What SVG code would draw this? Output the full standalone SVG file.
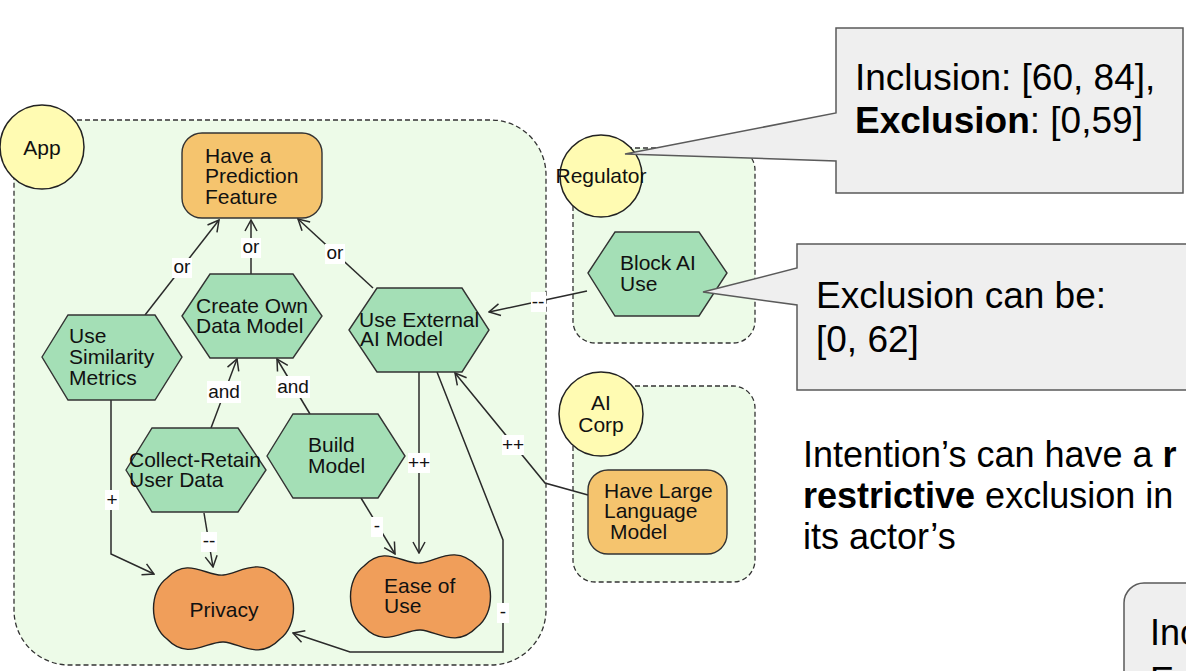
<svg xmlns="http://www.w3.org/2000/svg" xmlns:xlink="http://www.w3.org/1999/xlink" width="1186" height="671" viewBox="0 0 1186 671">
  <style>
    text { font-family: "Liberation Sans", Arial, sans-serif; fill: #111; }
    .node { font-size: 21px; }
    .lbl { font-size: 19px; text-anchor: middle; }
    .big { font-size: 36px; fill: #000; }
    .callout text { font-size: 37px; }
    .boundary { fill: #edfbe8; stroke: #333; stroke-width: 1.3; stroke-dasharray: 5 3; }
    .actor { fill: #fffbb2; stroke: #222; stroke-width: 1.5; }
    .task { fill: #a4dfb6; stroke: #333; stroke-width: 1.4; }
    .goal { fill: #f5c46e; stroke: #333; stroke-width: 1.4; }
    .soft { fill: #f09e5a; stroke: #222; stroke-width: 1.4; }
    .link { fill: none; stroke: #2a2a2a; stroke-width: 1.5; marker-end: url(#open); }
    .lblbg { fill: #fff; }
    .box { fill: #efefef; stroke: #5a5a5a; stroke-width: 1.5; }
  </style>
  <defs>
    <marker id="open" viewBox="-12 -7 13 14" refX="0" refY="0" markerWidth="13" markerHeight="14" markerUnits="userSpaceOnUse" orient="auto">
      <path d="M-11,-6 L0,0 L-11,6" fill="none" stroke="#2a2a2a" stroke-width="1.5"/>
    </marker>
    <!-- softgoal cloud outline, 141 x 87 -->
    <path id="cloud" d="M14,13 C35,-9 54,12 70.5,10 C87,8 106,-9 127,13 C145,26 145,61 127,74 C106,96 87,78 70.5,77 C54,76 35,96 14,74 C-4,61 -4,26 14,13 Z"/>
  </defs>

  <!-- actor boundaries -->
  <g id="app-boundary"><rect class="boundary" x="14" y="120" width="532" height="545" rx="55" ry="55"/></g>
  <g id="regulator-boundary"><rect class="boundary" x="573" y="148" width="182" height="195" rx="22" ry="22"/></g>
  <g id="aicorp-boundary"><rect class="boundary" x="573" y="386" width="182" height="196" rx="22" ry="22"/></g>

  <!-- actors -->
  <g id="actor-app"><circle class="actor" cx="42" cy="147" r="42"/><text class="node" x="42" y="155" text-anchor="middle">App</text></g>
  <g id="actor-regulator"><circle class="actor" cx="601" cy="176" r="41"/><text class="node" x="601" y="183" text-anchor="middle">Regulator</text></g>
  <g id="actor-aicorp"><circle class="actor" cx="601" cy="414" r="42"/><text class="node" x="601" y="410" text-anchor="middle">AI</text><text class="node" x="601" y="432" text-anchor="middle">Corp</text></g>

  <!-- connectors -->
  <g id="connectors">
    <polyline class="link" points="145,315 219,220"/>
    <polyline class="link" points="251,274 251,220"/>
    <polyline class="link" points="373,288 298,219"/>
    <polyline class="link" points="211,428 237,359"/>
    <polyline class="link" points="310,414 277,359"/>
    <polyline class="link" points="111,400 111,554 154,574"/>
    <polyline class="link" points="204,513 213,567"/>
    <polyline class="link" points="361,498 395,554"/>
    <polyline class="link" points="419,372 419,553"/>
    <polyline class="link" points="437,372 503,540 503,652 350,652 293,633"/>
    <polyline class="link" points="588,495 545,483 455,373"/>
    <polyline class="link" points="587,291 545,300 489,312"/>

    <rect class="lblbg" x="172" y="258" width="20" height="20"/><text class="lbl" x="182" y="273">or</text>
    <rect class="lblbg" x="241" y="238" width="20" height="20"/><text class="lbl" x="251" y="253">or</text>
    <rect class="lblbg" x="325" y="244" width="20" height="20"/><text class="lbl" x="335" y="259">or</text>
    <rect class="lblbg" x="207" y="381" width="34" height="22"/><text class="lbl" x="224" y="398">and</text>
    <rect class="lblbg" x="276" y="376" width="34" height="22"/><text class="lbl" x="293" y="393">and</text>
    <rect class="lblbg" x="105" y="490" width="14" height="20"/><text class="lbl" x="112" y="506">+</text>
    <rect class="lblbg" x="201" y="532" width="16" height="20"/><text class="lbl" x="209" y="547">--</text>
    <rect class="lblbg" x="371" y="517" width="12" height="20"/><text class="lbl" x="377" y="532">-</text>
    <rect class="lblbg" x="408" y="453" width="22" height="20"/><text class="lbl" x="419" y="469">++</text>
    <rect class="lblbg" x="502" y="435" width="22" height="20"/><text class="lbl" x="513" y="451">++</text>
    <rect class="lblbg" x="497" y="603" width="12" height="20"/><text class="lbl" x="503" y="618">-</text>
    <rect class="lblbg" x="531" y="292" width="15" height="20"/><text class="lbl" x="538" y="308">--</text>
  </g>

  <!-- App intentions -->
  <g id="goal-prediction">
    <rect class="goal" x="182" y="133" width="140" height="85" rx="20" ry="20"/>
    <text class="node" x="205" y="163">Have a</text>
    <text class="node" x="205" y="183">Prediction</text>
    <text class="node" x="205" y="204">Feature</text>
  </g>
  <g id="task-similarity">
    <polygon class="task" points="42,357 68,315 155,315 182,357 155,400 68,400"/>
    <text class="node" x="69" y="343">Use</text>
    <text class="node" x="69" y="364">Similarity</text>
    <text class="node" x="69" y="385">Metrics</text>
  </g>
  <g id="task-create-own">
    <polygon class="task" points="182,316 210,274 293,274 322,316 293,358 210,358"/>
    <text class="node" x="196" y="313">Create Own</text>
    <text class="node" x="196" y="333">Data Model</text>
  </g>
  <g id="task-use-external">
    <polygon class="task" points="349,330 377,288 462,288 489,330 462,372 377,372"/>
    <text class="node" x="359" y="327">Use External</text>
    <text class="node" x="360" y="346">AI Model</text>
  </g>
  <g id="task-collect">
    <polygon class="task" points="126,470 152,428 238,428 266,470 238,512 152,512"/>
    <text class="node" x="129" y="467">Collect-Retain</text>
    <text class="node" x="129" y="487">User Data</text>
  </g>
  <g id="task-build">
    <polygon class="task" points="267,456 293,414 378,414 405,456 378,498 293,498"/>
    <text class="node" x="308" y="452">Build</text>
    <text class="node" x="308" y="473">Model</text>
  </g>
  <g id="softgoal-privacy">
    <use xlink:href="#cloud" href="#cloud" class="soft" x="153" y="565"/>
    <text class="node" x="224" y="617" text-anchor="middle">Privacy</text>
  </g>
  <g id="softgoal-ease">
    <use xlink:href="#cloud" href="#cloud" class="soft" x="350" y="553"/>
    <text class="node" x="384" y="593">Ease of</text>
    <text class="node" x="384" y="613">Use</text>
  </g>

  <!-- Regulator / AI Corp intentions -->
  <g id="task-block-ai">
    <polygon class="task" points="588,273 615,232 699,232 727,273 699,316 615,316"/>
    <text class="node" x="620" y="270">Block AI</text>
    <text class="node" x="620" y="291">Use</text>
  </g>
  <g id="goal-llm">
    <rect class="goal" x="588" y="470" width="139" height="84" rx="20" ry="20"/>
    <text class="node" x="604" y="498">Have Large</text>
    <text class="node" x="604" y="518">Language</text>
    <text class="node" x="610" y="539">Model</text>
  </g>

  <!-- annotations -->
  <g id="callout-regulator" class="callout">
    <polygon class="box" points="836,28 1183,28 1183,193 836,193 836,161 625,154 836,113"/>
    <text class="big" x="855" y="90">Inclusion: [60, 84],</text>
    <text class="big" x="855" y="133"><tspan font-weight="bold">Exclusion</tspan>: [0,59]</text>
  </g>
  <g id="callout-block" class="callout">
    <polygon class="box" points="797,244 1192,244 1192,390 797,390 797,305 703,292 797,268"/>
    <text class="big" x="816" y="308">Exclusion can be:</text>
    <text class="big" x="816" y="352">[0, 62]</text>
  </g>
  <g id="note-intentions">
    <text class="big" x="803" y="467">Intention’s can have a <tspan font-weight="bold">r</tspan></text>
    <text class="big" x="803" y="508"><tspan font-weight="bold">restrictive</tspan> exclusion in</text>
    <text class="big" x="803" y="549">its actor’s</text>
  </g>
  <g id="note-corner">
    <rect class="box" x="1124" y="583" width="100" height="120" rx="20" ry="20"/>
    <text class="big" x="1150" y="645">Inc</text>
    <text class="big" x="1150" y="693">E</text>
  </g>
</svg>
